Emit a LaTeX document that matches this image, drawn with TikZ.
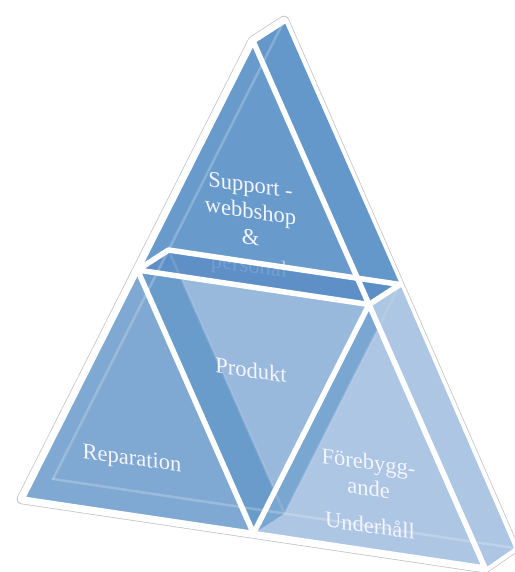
\documentclass[tikz,border=0pt]{standalone}
\usepackage{fontspec}
\setmainfont{Liberation Serif}
\begin{document}
\begin{tikzpicture}[x=1pt,y=-1pt,
  edge/.style={white,line width=5.5pt,line cap=round,line join=round},
  ghost/.style={white,opacity=0.22,line width=2.5pt,line cap=round},
  lbl/.style={text=white!96!blue,font=\fontsize{22.5}{26}\selectfont,inner sep=0pt,yslant=-0.14,align=center},
]
\definecolor{topface}{RGB}{104,155,204}
\definecolor{sideface}{RGB}{100,151,202}
\definecolor{bandface}{RGB}{90,140,197}
\definecolor{repface}{RGB}{127,168,210}
\definecolor{prodface}{RGB}{153,185,220}
\definecolor{prodside}{RGB}{106,156,203}
\definecolor{forface}{RGB}{172,198,227}
\definecolor{forside}{RGB}{122,166,210}
\definecolor{halo}{RGB}{195,195,195}
\useasboundingbox (0,0) rectangle (514,572);

% front corners and edge midpoints
\coordinate (A) at (253,41);
\coordinate (B) at (22,499);
\coordinate (C) at (485,568);
\coordinate (Mab) at (137.5,270);
\coordinate (Mac) at (369,304.5);
\coordinate (Mbc) at (253.5,533.5);
% the same points pushed back by the depth of the solid
\coordinate (A2) at (284,21);
\coordinate (B2) at (53,479);
\coordinate (C2) at (514,548);
\coordinate (Mab2) at (168.5,250);
\coordinate (Mac2) at (400,284.5);
\coordinate (Mbc2) at (284.5,513.5);

% outer rim
\draw[halo,line width=10.5pt,line join=round] (A)--(B)--(C)--(C2)--(A2)--cycle;
\draw[white,line width=9pt,line join=round] (A)--(B)--(C)--(C2)--(A2)--cycle;

% faces
\fill[forface] (Mac)--(Mac2)--(C2)--(C)--cycle;
\fill[sideface] (A)--(A2)--(Mac2)--(Mac)--cycle;
\fill[topface] (A)--(Mab)--(Mac)--cycle;
\fill[repface] (B)--(Mab)--(Mbc)--cycle;
\fill[prodface] (Mab)--(Mac)--(Mbc)--cycle;
\begin{scope}
  \clip (Mab)--(Mac)--(Mbc)--cycle;
  \fill[prodside] (Mab)--(Mab2)--(Mbc2)--(Mbc)--cycle;
\end{scope}
\fill[forface] (Mac)--(Mbc)--(C)--cycle;
\begin{scope}
  \clip (Mac)--(Mbc)--(C)--cycle;
  \fill[forside] (Mac)--(Mac2)--(Mbc2)--(Mbc)--cycle;
\end{scope}

% label seen through the underside of the top block
\node[lbl,opacity=.55] (t4) at (249,267) {personal};
\fill[bandface,opacity=0.7] (Mab)--(Mab2)--(Mac2)--(Mac)--cycle;

% hidden back edges showing through
\draw[ghost] (A2)--(Mab2);
\draw[ghost] (B2)--(Mab2);
\draw[ghost] (B2)--(Mbc2)--(C2);
\draw[ghost,opacity=.12] (Mab2)--(Mbc2)--(Mac2);

% white edges
\draw[edge] (A)--(B)--(C)--cycle;
\draw[edge] (Mab)--(Mac)--(Mbc)--cycle;
\draw[edge] (Mab)--(Mab2)--(Mac2)--(Mac);
\draw[edge] (A)--(A2);

% labels
\node[lbl] (t1) at (250.5,211) {Support -\\webbshop\\\&};
\node[lbl] (t5) at (251,370) {Produkt};
\node[lbl] (t6) at (132,460) {Reparation};
\node[lbl] (t7) at (368.5,475) {Förebygg-\\ande};
\node[lbl] (t9) at (370,525) {Underhåll};
\end{tikzpicture}
\end{document}
